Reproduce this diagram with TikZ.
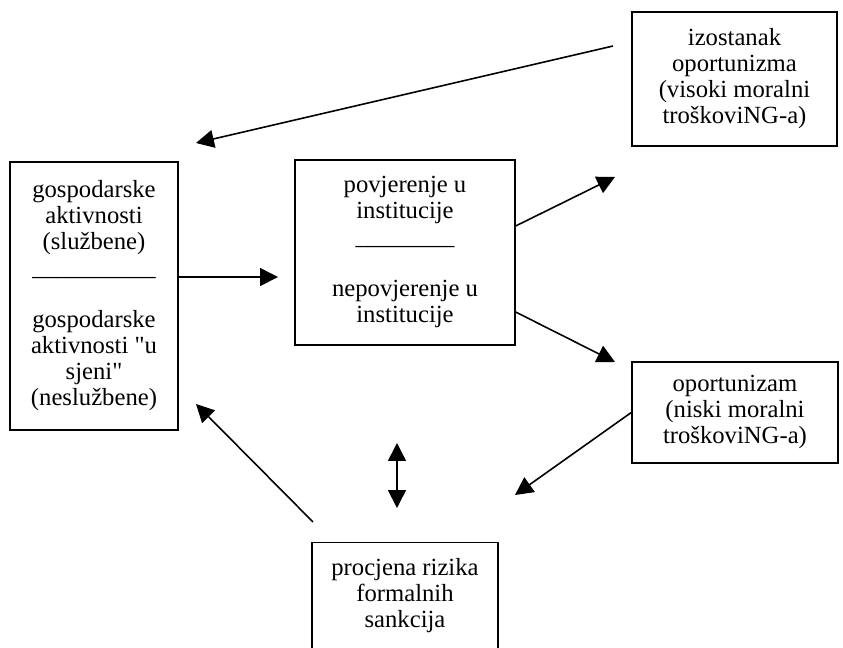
\documentclass[tikz,border=0pt]{standalone}
\usepackage{fontspec}
\setmainfont{Liberation Serif}
\usetikzlibrary{arrows.meta}

\begin{document}
\begin{tikzpicture}

\tikzstyle{box} = [draw, line width=1.3pt, inner sep=0, align=center,
font=\fontsize{23.4}{24.7}\selectfont]
\tikzstyle{arr} = [line width=1.5pt, -{Triangle[length=17pt,width=17pt]}]
\tikzstyle{arr2} = [line width=1.5pt, {Triangle[length=17pt,width=17pt]}-{Triangle[length=17pt,width=17pt]}]

\useasboundingbox (0,0) rectangle (28.1,21.567);

\node [box, minimum width=5.6cm, minimum height=8.93cm] (akt) at (3.133,11.7) {\begin{tabular}{c} gospodarske\\ aktivnosti\\ (službene)\\ \_\_\_\_\_\_\_\_\_\_\\ \\ gospodarske\\ aktivnosti \textquotedbl u\\ sjeni\textquotedbl\\ (neslužbene)\end{tabular}};

\node [box, minimum width=7.33cm, minimum height=6.17cm] (pov) at (13.5,13.15) {\begin{tabular}{c} povjerenje u\\ institucije\\ \_\_\_\_\_\_\_\_\\ \\ nepovjerenje u\\ institucije\end{tabular}};

\node [box, minimum width=6.83cm, minimum height=4.47cm] (izo) at (24.483,18.933) {\begin{tabular}{c} izostanak\\ oportunizma\\ (visoki moralni\\ troškoviNG-a)\end{tabular}};

\node [box, minimum width=6.87cm, minimum height=3.37cm] (opo) at (24.5,7.817) {\begin{tabular}{c} oportunizam\\ (niski moralni\\ troškoviNG-a)\end{tabular}};

\node [box, anchor=north, minimum width=6.2cm, minimum height=3.6cm] (riz) at (13.5,3.5) {\begin{tabular}{c} procjena rizika\\ formalnih\\ sankcija\end{tabular}};

% free ends
\coordinate (ab) at (9.267,12.333);
\coordinate (gore) at (20.5,15.667);
\coordinate (dolje) at (20.5,9.5);
\coordinate (op) at (17.167,5.067);
\coordinate (dv1) at (13.233,6.8);
\coordinate (dv2) at (13.233,4.633);
\coordinate (rz) at (10.433,4.167);
\coordinate (rz2) at (6.533,8.1);
\coordinate (iz) at (20.433,20.033);
\coordinate (iz2) at (6.533,16.8);

\draw[arr] (akt.east |- ab) -- (ab);
\draw[arr] ([yshift=0.883cm]pov.east) -- (gore);
\draw[arr] ([yshift=-1.983cm]pov.east) -- (dolje);
\draw[arr] (opo.west) -- (op);
\draw[arr2] (dv1) -- (dv2);
\draw[arr] (rz) -- (rz2);
\draw[arr] (iz) -- (iz2);

\end{tikzpicture}
\end{document}
